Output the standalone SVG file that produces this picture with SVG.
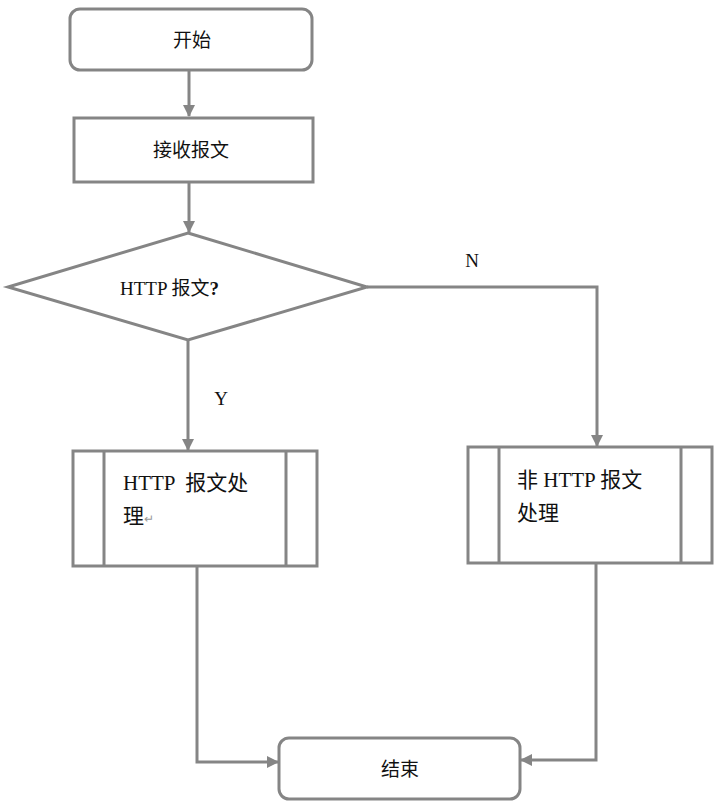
<svg xmlns="http://www.w3.org/2000/svg" width="720" height="808" viewBox="0 0 720 808">
<style>
.box{fill:#fff;stroke:#858585;stroke-width:3}
.ln{fill:none;stroke:#858585;stroke-width:3}
.sans{font-family:"Noto Sans CJK SC","Noto Sans",sans-serif;font-size:19px;fill:#111;text-anchor:middle}
.serif{font-family:"Liberation Serif","Noto Sans CJK SC",serif;fill:#111;white-space:pre}
</style>
<defs>
<marker id="ah" markerWidth="12" markerHeight="12" viewBox="0 0 12 12" refX="11" refY="6" orient="auto" markerUnits="userSpaceOnUse">
<path d="M0,0 L12,6 L0,12 z" fill="#858585"/>
</marker>
</defs>
<rect width="720" height="808" fill="#fff"/>
<g id="connectors">
<line class="ln" x1="189" y1="71" x2="189" y2="116" marker-end="url(#ah)"/>
<line class="ln" x1="189" y1="183" x2="189" y2="232" marker-end="url(#ah)"/>
<line class="ln" x1="188" y1="341" x2="188" y2="450" marker-end="url(#ah)"/>
<polyline class="ln" points="367,287 597,287 597,446" marker-end="url(#ah)"/>
<polyline class="ln" points="197,567 197,762 278,762" marker-end="url(#ah)"/>
<polyline class="ln" points="596,564 596,760 521,760" marker-end="url(#ah)"/>
<text class="serif" x="221" y="405" font-size="19" text-anchor="middle">Y</text>
<text class="serif" x="472" y="267" font-size="19" text-anchor="middle">N</text>
</g>
<g id="start">
<rect class="box" x="70" y="9" width="242" height="61" rx="10"/>
<text class="sans" x="192" y="47">开始</text>
</g>
<g id="receive">
<rect class="box" x="74" y="118" width="239" height="64"/>
<text class="sans" x="191" y="157">接收报文</text>
</g>
<g id="decision">
<polygon class="box" points="188,233 367,287 188,340 8,287"/>
<text class="serif" x="120" y="295" font-size="19">HTTP 报文<tspan font-weight="bold">?</tspan></text>
</g>
<g id="http-proc">
<rect class="box" x="73" y="451" width="244" height="115"/>
<line class="ln" x1="104" y1="451" x2="104" y2="566"/>
<line class="ln" x1="286" y1="451" x2="286" y2="566"/>
<text class="serif" x="123" y="490" font-size="21" xml:space="preserve">HTTP  报文处</text>
<text class="serif" x="123" y="523" font-size="21">理<tspan font-size="12" fill="#999">↵</tspan></text>
</g>
<g id="other-proc">
<rect class="box" x="468" y="447" width="244" height="116"/>
<line class="ln" x1="499" y1="447" x2="499" y2="563"/>
<line class="ln" x1="681" y1="447" x2="681" y2="563"/>
<text class="serif" x="517" y="487" font-size="21">非 HTTP 报文</text>
<text class="serif" x="517" y="520" font-size="21">处理</text>
</g>
<g id="end">
<rect class="box" x="279" y="738" width="241" height="61" rx="10"/>
<text class="sans" x="400" y="776">结束</text>
</g>
</svg>
